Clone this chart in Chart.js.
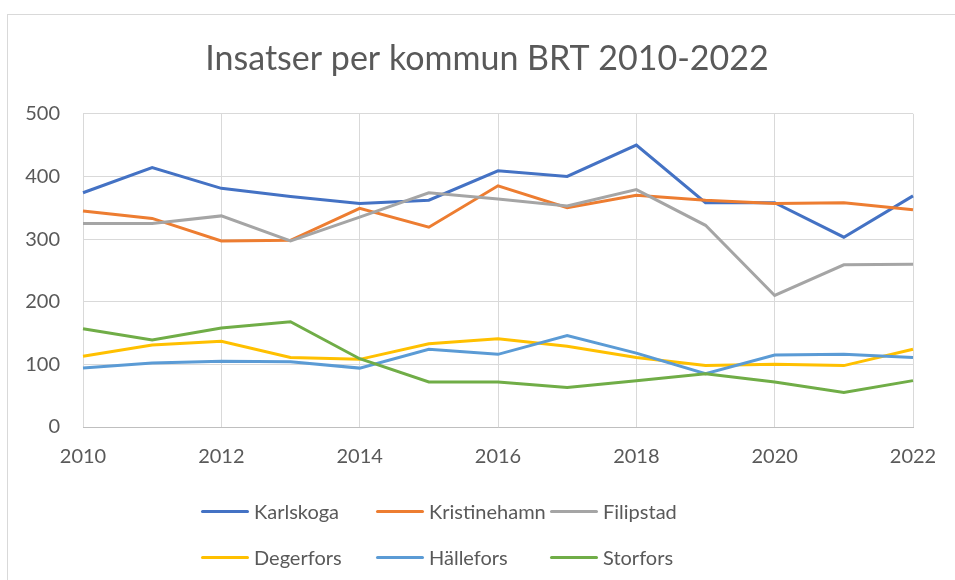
<!DOCTYPE html>
<html>
<head>
<meta charset="utf-8">
<script src="https://cdn.jsdelivr.net/npm/chart.js@4/dist/chart.umd.min.js"></script>
<style>
  body { margin: 0; background: #fff; font-family: Lato, sans-serif; }
  #frame { position: absolute; left: 7px; top: 14px; width: 970px; height: 620px; border: 1px solid #d9d9d9; }
  #wrap { position: absolute; left: 0; top: 0; width: 955px; height: 580px; }
  #legend { position: absolute; left: 0; top: 0; width: 955px; height: 580px; pointer-events: none; }
  .item { position: absolute; height: 24px; display: flex; align-items: center; color: #595959; font-size: 20px; }
  .item span.mark { display: inline-block; width: 48px; height: 3px; border-radius: 2px; margin-right: 5px; }
</style>
</head>
<body>
<div id="frame"></div>
<div id="wrap"><canvas id="myChart" width="955" height="580"></canvas></div>
<div id="legend"></div>
<script>
// data
const years = ['2010', '2011', '2012', '2013', '2014', '2015', '2016', '2017', '2018', '2019', '2020', '2021', '2022'];
const karlskoga    = [374, 414, 381, 368, 357, 362, 409, 400, 450, 358, 358, 303, 369];
const kristinehamn = [345, 333, 297, 298, 349, 319, 385, 350, 370, 362, 357, 358, 347];
const filipstad    = [325, 325, 337, 297, 335, 374, 364, 353, 379, 322, 210, 259, 260];
const degerfors    = [113, 131, 137, 111, 108, 133, 141, 129, 111, 98, 100, 98, 124];
const hallefors    = [94, 102, 105, 104, 94, 124, 116, 146, 118, 85, 115, 116, 111];
const storfors     = [157, 139, 158, 168, 109, 72, 72, 63, 74, 85, 72, 55, 74];
const yMin = 0, yMax = 500, yStep = 100;

const series = [
    { label: 'Karlskoga', data: karlskoga, color: '#4472C4' },
    { label: 'Kristinehamn', data: kristinehamn, color: '#ED7D31' },
    { label: 'Filipstad', data: filipstad, color: '#A5A5A5' },
    { label: 'Degerfors', data: degerfors, color: '#FFC000' },
    { label: 'Hällefors', data: hallefors, color: '#5B9BD5' },
    { label: 'Storfors', data: storfors, color: '#70AD47' }
];

// the title in the original is centred on the whole frame, not the plot
const shiftTitle = {
    id: 'shiftTitle',
    afterLayout(chart) {
        if (chart.titleBlock) chart.titleBlock.left += 41;
    }
};

const ctx = document.getElementById('myChart').getContext('2d');
const myChart = new Chart(ctx, {
    type: 'line',
    data: {
        labels: years,
        datasets: series.map((s, i) => ({
            label: s.label,
            data: s.data,
            borderColor: s.color,
            backgroundColor: s.color,
            borderWidth: 3,
            pointRadius: 0,
            tension: 0,
            order: series.length - i
        }))
    },
    options: {
        responsive: false,
        animation: false,
        layout: { padding: { left: 20, right: 42, top: 0, bottom: 93 } },
        plugins: {
            legend: { display: false },
            tooltip: { enabled: false },
            title: {
                display: true,
                text: 'Insatser per kommun BRT 2010-2022',
                color: '#595959',
                font: { family: 'Lato', size: 34, weight: 'normal' },
                padding: { top: 39, bottom: 34 }
            }
        },
        scales: {
            x: {
                offset: false,
                grid: { color: '#d9d9d9', drawTicks: false },
                border: { color: '#bfbfbf' },
                ticks: {
                    autoSkip: false,
                    maxRotation: 0,
                    padding: 18,
                    color: '#595959',
                    font: { family: 'Lato', size: 20 },
                    callback: function (val, index) {
                        return index % 2 === 0 ? this.getLabelForValue(val) : null;
                    }
                }
            },
            y: {
                min: yMin,
                max: yMax,
                afterFit: function (scale) { scale.width = 63; },
                grid: { color: '#d9d9d9', drawTicks: false },
                border: { display: false },
                ticks: {
                    stepSize: yStep,
                    padding: 23,
                    color: '#595959',
                    font: { family: 'Lato', size: 20 }
                }
            }
        }
    },
    plugins: [shiftTitle]
});

// legend, three per row like the original
const legendCols = [201, 376, 550];
const legendRows = [511, 557];
const legend = document.getElementById('legend');
series.forEach((s, i) => {
    const d = document.createElement('div');
    d.className = 'item';
    d.style.left = legendCols[i % 3] + 'px';
    d.style.top = (legendRows[Math.floor(i / 3)] - 12) + 'px';
    d.innerHTML = '<span class="mark" style="background:' + s.color + '"></span>' + s.label;
    legend.appendChild(d);
});
</script>
</body>
</html>
